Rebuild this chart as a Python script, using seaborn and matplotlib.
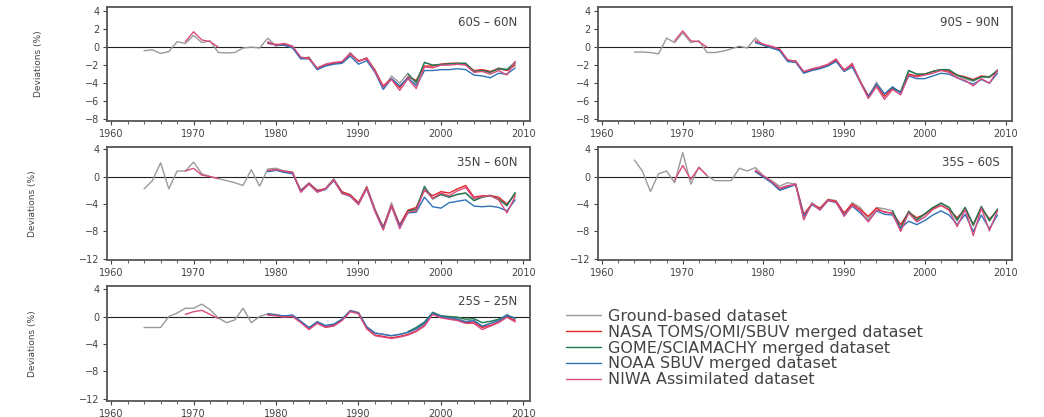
import numpy as np
import pandas as pd
import matplotlib
matplotlib.use("Agg")
import matplotlib.pyplot as plt
import seaborn as sns
from matplotlib.lines import Line2D
from matplotlib.ticker import MultipleLocator

sns.set_theme(style="white")
plt.rcParams["font.family"] = ["DejaVu Sans"]

# ---- time axes -------------------------------------------------------------
years_ground = np.arange(1964, 2010)
years_sat = np.arange(1979, 2010)
years_gome = np.arange(1996, 2010)
years_niwa_early = np.arange(1969, 1974)

datasets = [
    "Ground-based dataset",
    "NASA TOMS/OMI/SBUV merged dataset",
    "GOME/SCIAMACHY merged dataset",
    "NOAA SBUV merged dataset",
    "NIWA Assimilated dataset",
]
colors = ["#9a9a9a", "#e3242b", "#1c7a4e", "#2f72b8", "#d94c80"]

# ---- 60S - 60N ---------------------------------------------------------------
ground_60 = [-0.4, -0.3, -0.7, -0.5, 0.6, 0.4, 1.3, 0.5, 0.7, -0.6, -0.65, -0.6, -0.1, 0.0, -0.1,
             1.0, 0.1, 0.4, 0.1, -1.3, -1.1, -2.5, -1.9, -1.8, -1.7, -0.6, -1.6, -1.2, -2.5, -4.6,
             -3.2, -4.0, -2.9, -4.1, -1.7, -2.0, -1.9, -1.85, -1.8, -1.8, -2.7, -2.6, -2.8, -2.3, -2.5, -1.6]
nasa_60 = [0.4, 0.3, 0.3, 0.0, -1.2, -1.2, -2.4, -2.0, -1.8, -1.7, -0.8, -1.5, -1.3, -2.6, -4.3, -3.5,
           -4.5, -3.3, -3.7, -2.1, -2.1, -1.9, -1.8, -1.8, -1.9, -2.6, -2.5, -2.7, -2.4, -2.6, -2.0]
gome_60 = [-3.0, -3.9, -1.7, -2.0, -1.95, -1.85, -1.8, -1.8, -2.7, -2.6, -2.8, -2.4, -2.5, -1.8]
noaa_60 = [0.5, 0.2, 0.2, -0.1, -1.3, -1.3, -2.5, -2.1, -1.9, -1.8, -1.0, -1.9, -1.5, -2.8, -4.7, -3.5,
           -4.3, -3.4, -4.3, -2.6, -2.6, -2.5, -2.5, -2.4, -2.5, -3.1, -3.2, -3.4, -2.9, -3.0, -2.3]
niwa_60 = [0.6, 0.2, 0.4, 0.1, -1.1, -1.3, -2.3, -1.9, -1.7, -1.6, -0.7, -1.6, -1.2, -2.7, -4.4, -3.6,
           -4.8, -3.5, -4.6, -2.2, -2.3, -2.0, -2.0, -1.9, -2.0, -2.8, -2.7, -3.0, -2.6, -3.1, -1.6]
niwa_early_60 = [0.6, 1.7, 0.8, 0.6, 0.0]

# ---- 90S - 90N ---------------------------------------------------------------
ground_90 = [-0.55, -0.55, -0.6, -0.75, 1.0, 0.5, 1.6, 0.5, 0.7, -0.6, -0.6, -0.45, -0.2, 0.1, -0.1,
             1.0, 0.2, 0.0, -0.2, -1.5, -1.5, -2.8, -2.5, -2.3, -2.0, -1.4, -2.7, -1.9, -3.8, -5.6,
             -3.9, -5.2, -4.6, -5.0, -2.6, -3.0, -3.0, -2.7, -2.5, -2.6, -3.2, -3.5, -3.8, -3.3, -3.4, -2.5]
nasa_90 = [0.6, 0.3, 0.0, -0.3, -1.5, -1.6, -2.8, -2.5, -2.3, -2.0, -1.5, -2.5, -2.0, -3.8, -5.4, -4.2,
           -5.5, -4.5, -5.0, -3.0, -3.2, -3.0, -2.7, -2.5, -2.7, -3.1, -3.3, -3.6, -3.2, -3.3, -2.7]
gome_90 = [-4.6, -5.0, -2.6, -3.0, -3.0, -2.7, -2.5, -2.5, -3.1, -3.4, -3.7, -3.3, -3.3, -2.6]
noaa_90 = [0.5, 0.2, -0.1, -0.4, -1.6, -1.7, -2.9, -2.6, -2.4, -2.1, -1.6, -2.7, -2.2, -3.9, -5.5, -4.1,
           -5.2, -4.4, -5.1, -3.2, -3.5, -3.5, -3.2, -2.9, -3.0, -3.4, -3.8, -4.1, -3.6, -4.0, -2.9]
niwa_90 = [0.7, 0.3, 0.1, -0.2, -1.4, -1.6, -2.7, -2.4, -2.2, -1.9, -1.3, -2.6, -1.8, -3.9, -5.7, -4.4,
           -5.8, -4.7, -5.3, -3.1, -3.3, -3.1, -2.9, -2.6, -2.8, -3.4, -3.7, -4.3, -3.5, -4.0, -2.6]
niwa_early_90 = [0.7, 1.8, 0.7, 0.6, 0.0]

# ---- 35N - 60N ---------------------------------------------------------------
ground_nh = [-1.8, -0.6, 2.0, -1.8, 0.8, 0.8, 2.1, 0.4, 0.0, -0.3, -0.6, -0.9, -1.3, 1.0, -1.4,
             1.1, 1.2, 0.8, 0.7, -2.2, -0.9, -2.1, -1.7, -0.3, -2.3, -2.6, -3.9, -1.4, -4.7, -7.6,
             -3.8, -7.3, -5.0, -4.7, -1.4, -3.3, -2.6, -3.0, -2.6, -2.4, -3.5, -3.0, -2.7, -3.3, -4.3, -2.3]
nasa_nh = [0.8, 1.0, 0.7, 0.5, -2.0, -1.0, -2.0, -1.8, -0.5, -2.2, -2.7, -3.8, -1.6, -4.9, -7.3, -4.2,
           -7.0, -4.9, -4.5, -2.0, -2.8, -2.2, -2.4, -1.8, -1.3, -3.0, -2.8, -2.8, -3.0, -4.0, -2.6]
gome_nh = [-5.0, -4.8, -1.5, -3.2, -2.6, -3.0, -2.6, -2.4, -3.5, -3.0, -2.8, -3.3, -4.2, -2.4]
noaa_nh = [0.7, 0.9, 0.6, 0.4, -2.1, -1.1, -2.2, -1.9, -0.6, -2.4, -2.9, -4.0, -1.8, -5.0, -7.5, -4.4,
           -7.2, -5.3, -5.2, -3.0, -4.4, -4.6, -3.8, -3.6, -3.4, -4.3, -4.4, -4.3, -4.5, -5.0, -3.4]
niwa_nh = [0.9, 1.0, 0.8, 0.6, -2.3, -1.1, -2.3, -1.8, -0.5, -2.5, -2.8, -4.1, -1.7, -5.1, -7.8, -4.3,
           -7.6, -5.2, -5.0, -1.9, -3.2, -2.4, -2.8, -2.1, -1.6, -3.2, -2.9, -2.8, -3.4, -5.3, -2.9]
niwa_early_nh = [0.8, 1.2, 0.2, 0.0, -0.3]

# ---- 35S - 60S ---------------------------------------------------------------
ground_sh = [2.4, 0.8, -2.2, 0.4, 0.8, -0.9, 3.5, -1.1, 1.4, 0.1, -0.6, -0.6, -0.6, 1.2, 0.8,
             1.3, 0.1, -0.6, -1.4, -0.9, -1.1, -6.2, -3.8, -4.7, -3.3, -3.5, -5.5, -3.8, -4.5, -6.2,
             -4.5, -4.7, -5.0, -7.7, -5.0, -6.5, -5.5, -4.6, -3.8, -4.5, -6.5, -4.5, -7.2, -4.3, -6.5, -4.7]
nasa_sh = [0.8, 0.0, -0.8, -1.9, -1.5, -1.1, -5.5, -4.0, -4.6, -3.4, -3.6, -5.3, -4.0, -4.8, -5.8, -4.6,
           -5.2, -5.3, -7.0, -5.2, -6.0, -5.5, -4.6, -4.2, -4.8, -6.0, -4.8, -7.0, -4.6, -6.2, -5.0]
gome_sh = [-5.0, -7.5, -5.1, -6.3, -5.4, -4.5, -3.9, -4.5, -6.3, -4.5, -7.0, -4.4, -6.4, -4.8]
noaa_sh = [0.7, -0.1, -0.9, -2.0, -1.6, -1.2, -5.8, -4.1, -4.8, -3.5, -3.8, -5.6, -4.3, -5.3, -6.5, -5.0,
           -5.5, -5.6, -7.5, -6.5, -7.0, -6.4, -5.6, -5.0, -5.6, -7.0, -5.5, -8.0, -5.6, -7.6, -5.6]
niwa_sh = [0.9, 0.1, -0.7, -1.7, -1.3, -1.2, -6.3, -3.9, -4.9, -3.5, -3.7, -5.8, -4.2, -5.0, -6.6, -4.9,
           -5.1, -5.4, -8.0, -5.3, -6.6, -5.9, -4.8, -4.2, -4.9, -7.3, -4.8, -8.6, -4.6, -7.9, -5.0]
niwa_early_sh = [-0.5, 1.6, -0.4, 1.3, 0.2]

# ---- 25S - 25N ---------------------------------------------------------------
ground_tr = [-1.6, -1.6, -1.6, 0.0, 0.5, 1.2, 1.2, 1.8, 1.0, -0.2, -0.9, -0.5, 1.2, -0.9, 0.0,
             0.4, 0.3, 0.0, 0.2, -0.7, -1.7, -0.7, -1.4, -1.2, -0.4, 0.9, 0.6, -1.5, -2.4, -2.6,
             -2.8, -2.6, -2.3, -1.8, -1.0, 0.6, 0.1, -0.1, -0.3, -0.7, -0.5, -1.5, -1.0, -0.5, 0.3, -0.4]
nasa_tr = [0.3, 0.2, 0.0, 0.1, -0.8, -1.8, -0.9, -1.5, -1.3, -0.5, 0.8, 0.5, -1.7, -2.7, -2.9, -3.1,
           -2.9, -2.6, -2.1, -1.3, 0.4, 0.0, -0.3, -0.5, -0.9, -0.8, -1.6, -1.3, -0.8, 0.0, -0.6]
gome_tr = [-2.2, -1.6, -0.8, 0.6, 0.1, 0.0, -0.1, -0.4, -0.3, -0.9, -0.7, -0.4, 0.1, -0.2]
noaa_tr = [0.4, 0.2, 0.1, 0.2, -0.7, -1.6, -0.8, -1.3, -1.1, -0.4, 0.8, 0.5, -1.5, -2.4, -2.6, -2.8,
           -2.6, -2.3, -1.8, -1.0, 0.5, 0.0, -0.2, -0.4, -0.8, -0.6, -1.4, -1.0, -0.6, 0.2, -0.3]
niwa_tr = [0.2, 0.1, -0.1, 0.0, -0.9, -1.9, -1.0, -1.6, -1.4, -0.6, 0.7, 0.4, -1.8, -2.8, -3.0, -3.2,
           -3.0, -2.7, -2.2, -1.4, 0.3, -0.2, -0.4, -0.6, -1.0, -1.0, -1.9, -1.4, -0.9, -0.1, -0.8]
niwa_early_tr = [0.3, 0.7, 0.9, 0.3, -0.3]

regions = ["60S \u2013 60N", "90S \u2013 90N", "35N \u2013 60N", "35S \u2013 60S", "25S \u2013 25N"]


def region_frame(ground, nasa, gome, noaa, niwa, niwa_early):
    parts = [
        (datasets[0], "g", years_ground, ground),
        (datasets[1], "n", years_sat, nasa),
        (datasets[2], "s", years_gome, gome),
        (datasets[3], "o", years_sat, noaa),
        (datasets[4], "w1", years_niwa_early, niwa_early),
        (datasets[4], "w2", years_sat, niwa),
    ]
    frames = [pd.DataFrame({"year": yrs, "value": vals, "dataset": name, "segment": seg})
              for name, seg, yrs, vals in parts]
    return pd.concat(frames, ignore_index=True)


series = [
    region_frame(ground_60, nasa_60, gome_60, noaa_60, niwa_60, niwa_early_60),
    region_frame(ground_90, nasa_90, gome_90, noaa_90, niwa_90, niwa_early_90),
    region_frame(ground_nh, nasa_nh, gome_nh, noaa_nh, niwa_nh, niwa_early_nh),
    region_frame(ground_sh, nasa_sh, gome_sh, noaa_sh, niwa_sh, niwa_early_sh),
    region_frame(ground_tr, nasa_tr, gome_tr, noaa_tr, niwa_tr, niwa_early_tr),
]

W, H = 1044, 417
fig = plt.figure(figsize=(W / 100, H / 100), dpi=100)


def px_axes(x0, y0, x1, y1):
    return fig.add_axes([x0 / W, 1 - y1 / H, (x1 - x0) / W, (y1 - y0) / H])


boxes = [(107, 7, 530, 121), (598, 7, 1012, 121),
         (107, 147, 530, 260), (598, 147, 1012, 260),
         (107, 286, 530, 401)]
ylims = [(-8.2, 4.45), (-8.2, 4.45), (-12.15, 4.3), (-12.15, 4.3), (-12.3, 4.44)]
ysteps = [2, 2, 4, 4, 4]
palette = dict(zip(datasets, colors))

for i, (df, box) in enumerate(zip(series, boxes)):
    ax = px_axes(*box)
    ax.axhline(0, color="#222222", lw=0.8, zorder=1)
    for name in datasets:
        sub = df[df["dataset"] == name]
        sns.lineplot(data=sub, x="year", y="value", units="segment", estimator=None,
                     color=palette[name], lw=1.0, ax=ax, legend=False, sort=False, zorder=3)
    ax.set_xlim(1959.5, 2010.8)
    ax.set_ylim(*ylims[i])
    ax.xaxis.set_major_locator(MultipleLocator(10))
    ax.xaxis.set_minor_locator(MultipleLocator(2))
    ax.yaxis.set_major_locator(MultipleLocator(ysteps[i]))
    ax.set_xlabel("")
    ax.set_ylabel("Deviations (%)" if i % 2 == 0 else "", fontsize=6.5, color="#444444",
                  labelpad=30)
    ax.tick_params(axis="both", which="major", direction="out", length=3, width=0.8,
                   labelsize=7, colors="#444444", pad=2.5, bottom=True, left=True)
    ax.tick_params(axis="x", which="minor", direction="out", length=2, width=0.6,
                   colors="#444444", bottom=True)
    for sp in ax.spines.values():
        sp.set_color("#555555")
        sp.set_linewidth(1.3)
    ax.text(0.97, 0.92, regions[i], transform=ax.transAxes, ha="right", va="top",
            fontsize=8.5, color="#444444")

handles = [Line2D([], [], color=c, lw=1.0) for c in colors]
fig.legend(handles, datasets, loc="upper left", bbox_to_anchor=(566 / W, 1 - 309 / H),
           frameon=False, fontsize=11.5, handlelength=2.2, handletextpad=0.4,
           labelspacing=0.05, borderpad=0, borderaxespad=0, labelcolor="#444444")

fig.savefig("out.png", dpi=100)
